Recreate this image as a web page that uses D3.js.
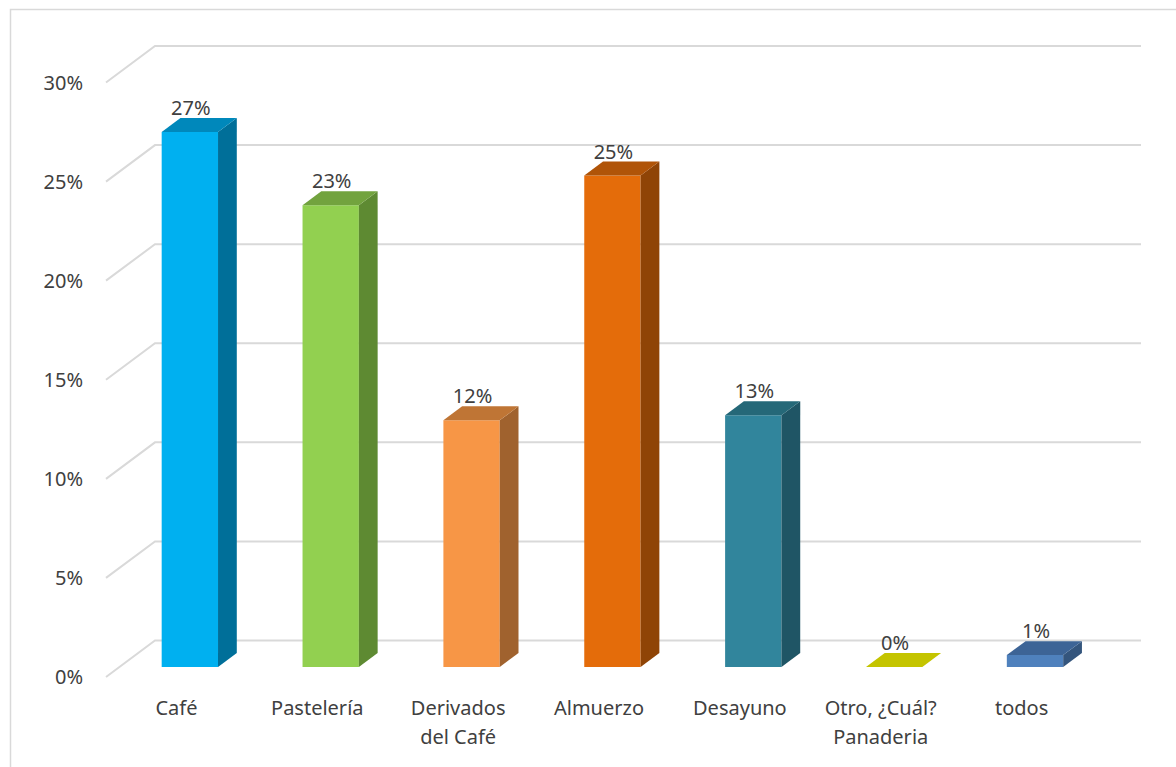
<!DOCTYPE html>
<html>
<head>
<meta charset="utf-8">
<script src="https://cdn.jsdelivr.net/npm/d3@7"></script>
<style>
  html, body { margin: 0; padding: 0; background: #ffffff; }
  svg { display: block; }
  text { font-family: "Noto Sans", "Open Sans", sans-serif; fill: #404040; }
</style>
</head>
<body>
<svg id="chart" width="1176" height="767"></svg>
<script>
// ---- data ----
const categories = ["Café", "Pastelería", "Derivados del Café", "Almuerzo", "Desayuno", "Otro, ¿Cuál? Panaderia", "todos"];
const categoryLines = [["Café"], ["Pastelería"], ["Derivados", "del Café"], ["Almuerzo"], ["Desayuno"], ["Otro, ¿Cuál?", "Panaderia"], ["todos"]];
const values = [27.0, 23.3, 12.45, 24.8, 12.7, 0, 0.6];
const tickValues = [0, 5, 10, 15, 20, 25, 30];
const tickLabels = ["0%", "5%", "10%", "15%", "20%", "25%", "30%"];
const frontColors = ["#00B0F0", "#92D050", "#F79646", "#E46C0A", "#31859C", "#C4C400", "#4F81BD"];
const sideColors  = ["#006F99", "#5E8A32", "#A0622E", "#8F4406", "#1F5565", "#8A8A00", "#34557D"];
const topColors   = ["#0088BB", "#72A33E", "#BF7535", "#B05408", "#256878", "#C4C400", "#3D6496"];

// ---- layout ----
const svg = d3.select("#chart");
const depthDx = 49, depthDy = -36.5;      // full depth of the 3D plot
const barFront = 0.274, barBack = 0.657;  // bar depth position (fractions)

const x = d3.scaleBand().domain(categories).range([106, 1092]).paddingInner(0.6).paddingOuter(0.3);
const y = d3.scaleLinear().domain([0, 30]).range([677, 82.5]);

function P(px, v, f) { return [px + f * depthDx, y(v) + f * depthDy]; }

// chart border
svg.append("rect").attr("x", 10.5).attr("y", 9.5).attr("width", 1300).attr("height", 900)
  .attr("fill", "none").attr("stroke", "#D9D9D9").attr("stroke-width", 1.5);

// gridlines (back wall + side diagonal)
const grid = svg.append("g").attr("stroke", "#D9D9D9").attr("stroke-width", 2).attr("fill", "none");
tickValues.forEach(t => {
  const a = P(x.range()[0], t, 0), b = P(x.range()[0], t, 1), c = P(x.range()[1], t, 1);
  grid.append("path").attr("d", d3.line()([a, b, c]));
});

// y tick labels
svg.append("g").selectAll("text").data(tickValues).join("text")
  .attr("x", 83).attr("y", d => y(d)).attr("dy", "0.35em")
  .attr("text-anchor", "end").attr("font-size", 20)
  .text((d, i) => tickLabels[i]);

// bars
const bars = svg.append("g");
categories.forEach((c, i) => {
  const v = values[i];
  const x0 = x(c), x1 = x(c) + x.bandwidth();
  const g = bars.append("g");
  const fl0 = P(x0, 0, barFront), fr0 = P(x1, 0, barFront), fr1 = P(x1, v, barFront), fl1 = P(x0, v, barFront);
  const br0 = P(x1, 0, barBack), br1 = P(x1, v, barBack), bl1 = P(x0, v, barBack);
  if (v > 0) {
    g.append("path").attr("d", d3.line()([fl0, fr0, fr1, fl1]) + "Z").attr("fill", frontColors[i]);
    g.append("path").attr("d", d3.line()([fr0, br0, br1, fr1]) + "Z").attr("fill", sideColors[i]);
  }
  g.append("path").attr("d", d3.line()([fl1, fr1, br1, bl1]) + "Z").attr("fill", topColors[i]);
  // value label
  const cx = (fl1[0] + fr1[0]) / 2 + 1;
  svg.append("text").attr("x", cx).attr("y", bl1[1] - 3)
    .attr("text-anchor", "middle").attr("font-size", 20)
    .text(Math.round(v) + "%");
});

// category labels
const catG = svg.append("g");
categories.forEach((c, i) => {
  const t = catG.append("text").attr("text-anchor", "middle").attr("font-size", 20)
    .attr("x", x(c) + x.bandwidth() / 2).attr("y", y(0) + 38);
  categoryLines[i].forEach((ln, j) => {
    t.append("tspan").attr("x", x(c) + x.bandwidth() / 2).attr("dy", j === 0 ? 0 : 29).text(ln);
  });
});
</script>
</body>
</html>
